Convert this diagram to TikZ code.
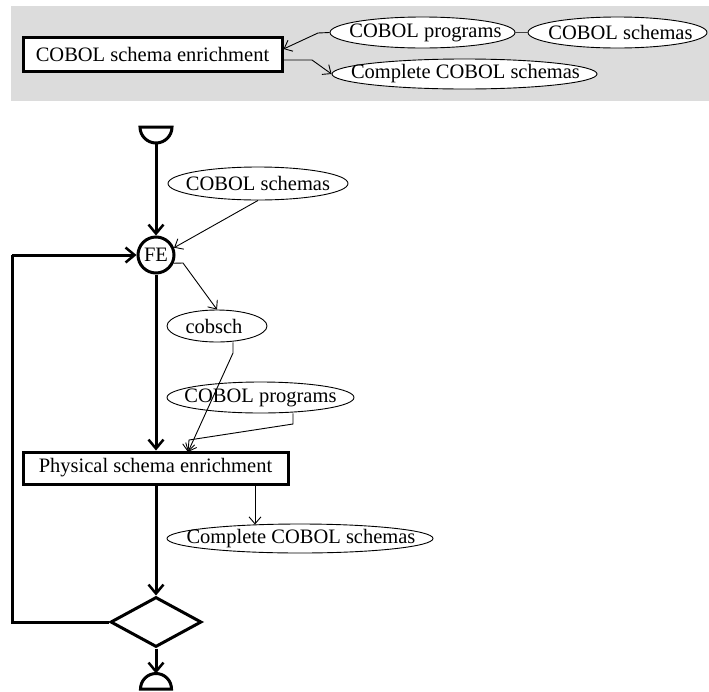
\documentclass[tikz,border=0pt]{standalone}
\usepackage{fontspec}
\setmainfont{Liberation Serif}
\usetikzlibrary{arrows.meta,shapes.geometric}
\definecolor{band}{RGB}{220,220,220}
\begin{document}
\begin{tikzpicture}[x=1pt,y=1pt,
  lbl/.style={font=\fontsize{20.5}{24}\selectfont},
  procbox/.style={draw,line width=3pt,fill=white,inner sep=0pt,lbl},
  datael/.style={draw,ellipse,line width=0.9pt,fill=white,inner sep=0pt},
  eltext/.style={lbl,inner sep=0pt},
  thinarr/.style={line width=0.9pt,-{Straight Barb[length=7pt,width=12pt,line width=0.9pt]}},
  thinline/.style={line width=0.9pt},
  thickarr/.style={line width=3pt,-{Straight Barb[length=9pt,width=15pt,line width=2.5pt]}},
  thickline/.style={line width=3pt}]
\useasboundingbox (0,0) rectangle (709,-691);
% top band
\fill[band] (11,-6) rectangle (709,-101);
\node[procbox,minimum width=259pt,minimum height=34pt] (topbox) at (152.5,-54) {COBOL schema enrichment};
\node[datael,minimum width=185pt,minimum height=31pt] (tprog) at (422.5,-32.5) {};
\node[eltext] (tprogt) at ([xshift=3pt]tprog.center) {COBOL programs};
\node[datael,minimum width=179pt,minimum height=31pt] (tsch) at (617.5,-32.5) {};
\node[eltext] (tscht) at ([xshift=3pt]tsch.center) {COBOL schemas};
\node[datael,minimum width=265pt,minimum height=30pt] (tcomp) at (464.5,-74) {};
\node[eltext] (tcompt) at ([xshift=1pt]tcomp.center) {Complete COBOL schemas};
\coordinate (tb1) at (318,-33);
\coordinate (tb2) at (312,-60);
\draw[line width=1.5pt,draw=black!75] (tprog.east) -- (tsch.west);
\draw[thinarr] (tprog.west) -- (tb1) -- ([yshift=5pt]topbox.east);
\draw[thinarr] ([yshift=-6pt]topbox.east) -- (tb2) -- (tcomp.west);
% lower diagram
\draw[thickline] (140,-127) -- (172,-127) arc (0:-180:16) -- cycle;
\coordinate (stb) at (156,-143);
\node[draw,circle,line width=3pt,minimum size=36pt,inner sep=0pt,lbl] (FE) at (156,-255) {FE};
\node[datael,minimum width=180pt,minimum height=33pt] (bsch) at (258,-183.5) {};
\node[eltext] (bscht) at (bsch.center) {COBOL schemas};
\node[datael,minimum width=100pt,minimum height=32pt] (cobsch) at (217,-326) {};
\node[eltext] (cobscht) at ([xshift=-3pt]cobsch.center) {cobsch};
\node[datael,minimum width=187pt,minimum height=31pt] (bprog) at (260.5,-397.5) {};
\node[eltext] (bprogt) at (bprog.center) {COBOL programs};
\node[procbox,minimum width=265pt,minimum height=32pt] (phys) at (155.5,-468) {Physical schema enrichment};
\node[datael,minimum width=266pt,minimum height=29pt] (bcomp) at (300,-538.5) {};
\node[eltext] (bcompt) at ([xshift=1pt]bcomp.center) {Complete COBOL schemas};
\node[draw,diamond,line width=3pt,minimum width=91pt,minimum height=50pt,inner sep=0pt] (dec) at (156,-622) {};
\coordinate (endt) at (156,-673.5);
\draw[thickline] (140.5,-689) arc (180:0:15.5) -- cycle;
% main flow
\draw[thickarr] (stb) -- (FE.north);
\draw[thickarr] (FE.south) -- (FE.south |- phys.north);
\draw[thickarr] (phys.south -| dec.north) -- (dec.north);
\draw[thickarr] (dec.south) -- (endt);
\coordinate (lp1) at (12,-622);
\coordinate (lp2) at (12,-255);
\draw[thickline] (dec.west) -- (lp1) -- (lp2);
\draw[thickarr] (lp2) -- (FE.west);
% data flows
\draw[thinarr] (bsch.south) -- (FE.22);
\coordinate (fe1) at (183,-263);
\draw[thinarr] (FE.-25) -- (fe1) -- (cobsch.north);
\coordinate (cs1) at (233,-353);
\coordinate (tip) at (188,-452);
\draw[thinarr] ([xshift=16pt]cobsch.south) -- (cs1) -- (tip);
\coordinate (bp1) at (293,-424);
\coordinate (bp2) at (189,-440);
\draw[thinarr] ([xshift=32.5pt]bprog.south) -- (bp1) -- (bp2) -- (tip);
\draw[thinarr] (255,-484) -- (255,-524.5);
\end{tikzpicture}
\end{document}
